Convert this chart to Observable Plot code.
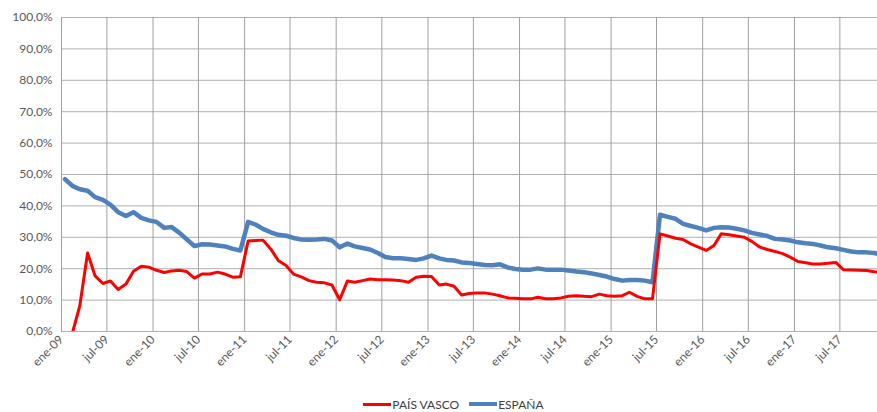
<!DOCTYPE html>
<html>
<head>
<meta charset="utf-8">
<script src="https://cdn.jsdelivr.net/npm/d3@7"></script>
<script src="https://cdn.jsdelivr.net/npm/@observablehq/plot@0.6"></script>
<style>
  body { margin: 0; background: #fff; font-family: Lato, "Open Sans", sans-serif; }
  #legend { display: flex; justify-content: center; align-items: center; height: 24px; padding-top: 4px; padding-left: 30px; font-size: 12px; color: #404040; }
  .item { display: flex; align-items: center; margin: 0 5px; }
  .sw { display: inline-block; width: 28px; margin-right: 1px; }
</style>
</head>
<body>
<div id="chart"></div>
<div id="legend">
  <span class="item"><span class="sw" style="height:3px;background:#ff0000"></span>PAÍS VASCO</span>
  <span class="item"><span class="sw" style="height:4px;background:#4f81bd"></span>ESPAÑA</span>
</div>
<script>
const tickLabels = ["ene-09","jul-09","ene-10","jul-10","ene-11","jul-11","ene-12","jul-12","ene-13","jul-13","ene-14","jul-14","ene-15","jul-15","ene-16","jul-16","ene-17","jul-17"];

// monthly values, ene-09 .. dic-17 (%)
const paisVasco = [
  null, 0, 8.2, 25.0, 17.7, 15.3, 16.1, 13.4, 15.1, 19.2, 20.8, 20.5,
  19.5, 18.8, 19.3, 19.5, 19.1, 17.0, 18.3, 18.3, 18.9, 18.3, 17.3, 17.4,
  28.8, 29.0, 29.1, 26.3, 22.6, 21.0, 18.3, 17.4, 16.2, 15.7, 15.5, 14.8,
  10.1, 16.1, 15.7, 16.2, 16.7, 16.5, 16.5, 16.4, 16.2, 15.7, 17.3, 17.6,
  17.5, 14.8, 15.1, 14.4, 11.6, 12.1, 12.3, 12.3, 11.9, 11.4, 10.7, 10.6,
  10.4, 10.4, 10.9, 10.4, 10.4, 10.7, 11.2, 11.4, 11.2, 11.1, 11.9, 11.4,
  11.2, 11.4, 12.5, 11.2, 10.4, 10.4, 31.1, 30.4, 29.7, 29.3, 27.9, 26.9,
  25.8, 27.4, 31.1, 30.8, 30.4, 30.0, 28.7, 26.9, 26.1, 25.5, 24.8, 23.7,
  22.3, 21.9, 21.5, 21.5, 21.7, 22.0, 19.7, 19.6, 19.5, 19.4, 19.0, 18.9
];
const espana = [
  48.5, 46.3, 45.3, 44.8, 42.8, 41.9, 40.4, 38.0, 36.8, 38.0, 36.2, 35.4,
  34.9, 33.0, 33.3, 31.5, 29.4, 27.2, 27.8, 27.7, 27.4, 27.1, 26.3, 25.8,
  34.9, 34.0, 32.7, 31.6, 30.8, 30.5, 29.8, 29.3, 29.2, 29.3, 29.5, 29.0,
  26.8, 28.0, 27.1, 26.6, 26.1, 25.0, 23.7, 23.3, 23.3, 23.1, 22.8, 23.3,
  24.2, 23.3, 22.8, 22.6, 22.0, 21.8, 21.5, 21.2, 21.1, 21.4, 20.4, 19.9,
  19.7, 19.7, 20.1, 19.7, 19.7, 19.7, 19.4, 19.1, 18.9, 18.5, 18.0, 17.5,
  16.7, 16.2, 16.4, 16.4, 16.2, 15.7, 37.2, 36.5, 35.9, 34.3, 33.6, 33.0,
  32.2, 33.0, 33.2, 33.1, 32.7, 32.2, 31.4, 30.9, 30.4, 29.5, 29.3, 29.0,
  28.4, 28.1, 27.9, 27.4, 26.8, 26.5, 26.0, 25.5, 25.2, 25.2, 25.0, 24.4
];

const monthStarts = d3.utcMonths(new Date(Date.UTC(2009, 0, 1)), new Date(Date.UTC(2018, 0, 1)));
const mid = monthStarts.map(m => d3.utcDay.offset(m, 14));
const pvData = mid.map((d, i) => ({date: d, v: paisVasco[i]}));
const esData = mid.map((d, i) => ({date: d, v: espana[i]}));

const monthIdx = {ene: 0, jul: 6};
const tickDates = tickLabels.map(s => {
  const [m, y] = s.split("-");
  return new Date(Date.UTC(2000 + +y, monthIdx[m], 1));
});
const labelMap = new Map(tickDates.map((d, i) => [+d, tickLabels[i]]));
const yTicks = d3.range(0, 101, 10);

const plot = Plot.plot({
  width: 877,
  height: 388,
  marginLeft: 61,
  marginRight: 0,
  marginTop: 17,
  marginBottom: 57,
  style: {fontFamily: "Lato, 'Open Sans', sans-serif", fontSize: "12px", color: "#595959", background: "#fff"},
  x: {
    type: "utc",
    domain: [new Date(Date.UTC(2009, 0, 1)), new Date(Date.UTC(2017, 10, 28))],
    ticks: tickDates,
    tickFormat: d => labelMap.get(+d),
    tickRotate: -45,
    tickSize: 0,
    tickPadding: 6,
    label: null
  },
  y: {
    domain: [0, 100],
    ticks: yTicks,
    tickFormat: d => d.toFixed(1).replace(".", ",") + "%",
    tickSize: 0,
    tickPadding: 9,
    label: null
  },
  marks: [
    Plot.ruleY(yTicks, {stroke: "#b0b0b0", strokeWidth: 1}),
    Plot.ruleX(tickDates, {stroke: "#a0a0a0", strokeWidth: 1}),
    Plot.lineY(esData, {x: "date", y: "v", stroke: "#4f81bd", strokeWidth: 4.5, clip: true}),
    Plot.lineY(pvData, {x: "date", y: "v", stroke: "#ff0000", strokeWidth: 3, clip: true})
  ]
});
document.getElementById("chart").appendChild(plot);
</script>
</body>
</html>
